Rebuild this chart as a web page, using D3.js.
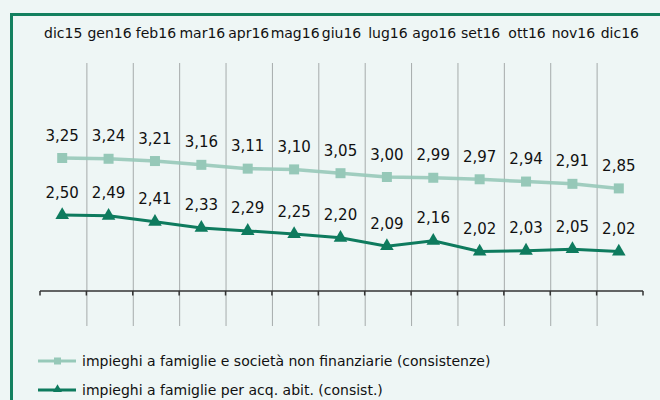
<!DOCTYPE html>
<html><head><meta charset="utf-8">
<script src="https://cdn.jsdelivr.net/npm/d3@7"></script>
<style>
html,body{margin:0;padding:0;background:#eef6f5;}
svg{display:block;}
text{font-family:"DejaVu Sans",sans-serif;fill:#111;}
</style></head>
<body>
<svg id="c" width="660" height="400"></svg>
<script>
const categories = ["dic15","gen16","feb16","mar16","apr16","mag16","giu16","lug16","ago16","set16","ott16","nov16","dic16"];
const seriesA = [3.25,3.24,3.21,3.16,3.11,3.10,3.05,3.00,2.99,2.97,2.94,2.91,2.85];
const seriesB = [2.50,2.49,2.41,2.33,2.29,2.25,2.20,2.09,2.16,2.02,2.03,2.05,2.02];
const seriesNames = ["impieghi a famiglie e società non finanziarie (consistenze)","impieghi a famiglie per acq. abit. (consist.)"];
const yDomain = [1.5, 4.5];

const colA = "#97c9b9", colB = "#0e7b5e";
const svg = d3.select("#c");
svg.append("rect").attr("width",660).attr("height",400).attr("fill","#eef6f5");
// frame
svg.append("path").attr("d","M11.5,420 V14.5 H680").attr("fill","none").attr("stroke","#13805f").attr("stroke-width",3);

const x = d3.scaleBand().domain(categories).range([40,643]).padding(0);
const y = d3.scaleLinear().domain(yDomain).range([291,63]);

// gridlines at interior band boundaries
const bounds = categories.slice(1).map(c => x(c));
svg.append("g").selectAll("line").data(bounds).join("line")
  .attr("x1",d=>d+0.5).attr("x2",d=>d+0.5).attr("y1",63).attr("y2",326)
  .attr("stroke","#a6abab").attr("stroke-width",1);

// axis
const ax = svg.append("g").attr("transform","translate(0,291)");
ax.append("line").attr("x1",40).attr("x2",643).attr("stroke","#333").attr("stroke-width",1.5);
ax.selectAll("line.t").data(categories.map(c=>x(c)).concat([643])).join("line").attr("class","t")
  .attr("x1",d=>d).attr("x2",d=>d).attr("y1",0).attr("y2",4.5).attr("stroke","#333").attr("stroke-width",1.5);

// category labels
svg.append("g").selectAll("text").data(categories).join("text")
  .attr("x",d=>x(d)+x.bandwidth()/2).attr("y",38).attr("text-anchor","middle")
  .attr("font-size",14).text(d=>d);

const cx = (d,i) => x(categories[i]) + x.bandwidth()/2 - 1;
const line = d3.line().x((d,i)=>cx(d,i)).y(d=>y(d));
const fmt = v => d3.format(".2f")(v).replace(".",",");

// series A
svg.append("path").datum(seriesA).attr("d",line).attr("fill","none").attr("stroke",colA).attr("stroke-width",3.5).attr("stroke-opacity",0.9);
svg.append("g").selectAll("rect").data(seriesA).join("rect")
  .attr("x",(d,i)=>cx(d,i)-5).attr("y",d=>y(d)-5).attr("width",10).attr("height",10).attr("fill","#96c8b8");
svg.append("g").selectAll("text").data(seriesA).join("text")
  .attr("x",(d,i)=>cx(d,i)).attr("y",d=>y(d)-17.5).attr("text-anchor","middle").attr("font-size",15).text(fmt);

// series B
svg.append("path").datum(seriesB).attr("d",line).attr("fill","none").attr("stroke",colB).attr("stroke-width",3);
const tri = d3.symbol().type(d3.symbolTriangle).size(80);
svg.append("g").selectAll("path").data(seriesB).join("path")
  .attr("transform",(d,i)=>`translate(${cx(d,i)},${y(d)})`).attr("d",tri).attr("fill",colB);
svg.append("g").selectAll("text").data(seriesB).join("text")
  .attr("x",(d,i)=>cx(d,i)).attr("y",d=>y(d)-17.5).attr("text-anchor","middle").attr("font-size",15).text(fmt);

// legend
const lg = svg.append("g");
const ly = [361, 390];
lg.append("line").attr("x1",38).attr("x2",76).attr("y1",ly[0]).attr("y2",ly[0]).attr("stroke",colA).attr("stroke-width",3);
lg.append("rect").attr("x",54).attr("y",ly[0]-3.5).attr("width",7).attr("height",7).attr("fill","#96c8b8");
lg.append("line").attr("x1",38).attr("x2",76).attr("y1",ly[1]).attr("y2",ly[1]).attr("stroke",colB).attr("stroke-width",3);
lg.append("path").attr("transform",`translate(57.5,${ly[1]-0.5})`).attr("d",d3.symbol().type(d3.symbolTriangle).size(35)).attr("fill",colB);
lg.selectAll("text").data(seriesNames).join("text")
  .attr("x",82).attr("y",(d,i)=>ly[i]+5).attr("font-size",14).text(d=>d);
</script>
</body></html>
